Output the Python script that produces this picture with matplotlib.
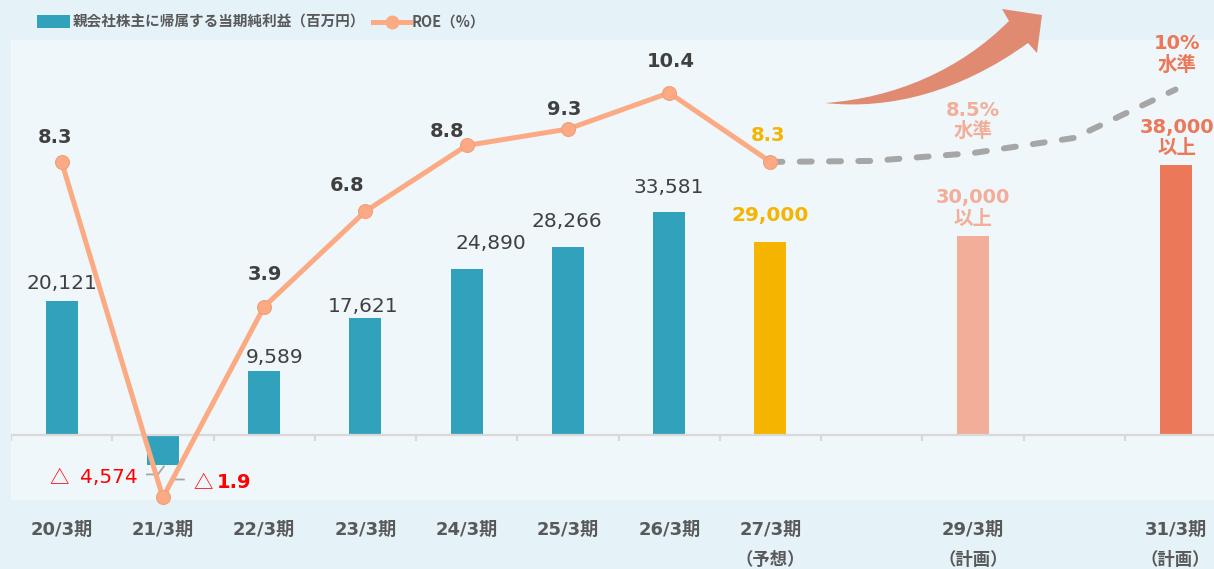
import matplotlib
matplotlib.use('Agg')
import matplotlib.pyplot as plt
import numpy as np
from matplotlib.patches import Rectangle, PathPatch
from matplotlib.path import Path
from matplotlib.lines import Line2D
from matplotlib.transforms import Affine2D

plt.rcParams['font.family'] = ['DejaVu Sans', 'Noto Sans CJK JP']

# ---------------- data ----------------
categories = ['20/3期', '21/3期', '22/3期', '23/3期', '24/3期', '25/3期', '26/3期',
              '27/3期', '', '29/3期', '', '31/3期']
sub_labels = ['', '', '', '', '', '', '', '（予想）', '', '（計画）', '', '（計画）']

# net profit attributable to owners of parent (million yen); bar heights as drawn
profit = [20121, -4574, 9589, 17621, 24890, 28266, 33581, 29000, np.nan, 30000, np.nan, 40600]
profit_labels = ['20,121', '4,574', '9,589', '17,621', '24,890', '28,266', '33,581',
                 '29,000', '', '30,000\n以上', '', '38,000\n以上']

roe_pos = [0, 1, 2, 3, 4, 5, 6, 7]
roe = [8.3, -1.9, 3.9, 6.8, 8.8, 9.3, 10.4, 8.3]

roe_plan_pos = [7, 8, 9, 10, 11]
roe_plan = [8.3, 8.33, 8.57, 9.03, 10.5]
roe_target_pos = [9, 11]
roe_target_labels = ['8.5%\n水準', '10%\n水準']

# ---------------- styles ----------------
TEAL = '#31a1bc'
GOLD = '#f5b400'
SALMON = '#f3ae9a'
CORAL = '#eb7859'
PEACH = '#fbaa83'
DARK = '#404040'
GRAY_TXT = '#595959'
RED = '#ff0000'
CJK = ['Noto Sans CJK JP', 'DejaVu Sans']
bar_colors = [TEAL] * 7 + [GOLD, TEAL, SALMON, TEAL, CORAL]
label_colors = [DARK] * 7 + [GOLD, DARK, SALMON, DARK, CORAL]
label_weights = ['normal'] * 7 + ['bold', 'normal', 'bold', 'normal', 'bold']
# label offsets in pixels (dx, gap above bar)
bar_dx = [0, 0, 10, -2, 24, -1, -1, 0, 0, 0, 0, 1]
bar_gap = [12, 0, 8, 6, 20, 20, 19, 21, 0, 27, 0, 27]
roe_dx = [-7, 0, 1, -18, -20, -4, 2, -2]
roe_gap = [19, 0, 27, 20, 8, 14, 26, 21]
roe_colors = [DARK] * 7 + [GOLD]
target_colors = [SALMON, CORAL]
target_dx = [0, 2]
target_gap = [32, 35]

W, H = 1214, 569
fig = plt.figure(figsize=(W / 100, H / 100), dpi=100)
fig.patch.set_facecolor('#e5f2f8')
px = Affine2D().scale(1, -1).translate(0, H)   # pixel coords, y downwards

ax = fig.add_axes([11 / W, 69 / H, 1203 / W, 460 / H])
ax.set_facecolor('#eff7fa')
x = np.arange(len(categories))
ax.set_xlim(-0.5, 11.38)
ax.set_ylim(-9776, 59400)
for s in ax.spines.values():
    s.set_visible(False)
ax.set_xticks([])
ax.set_yticks([])

ax.bar(x, profit, width=0.316, color=bar_colors, zorder=2)
ax.axhline(0, color='#d9d9d9', lw=1.6, zorder=3)
bounds = np.arange(len(categories)) - 0.5
ax.vlines(bounds, -950, 0, color='#d9d9d9', lw=1.6, zorder=3)

for i, v in enumerate(profit):
    if np.isnan(v) or v < 0:
        continue
    txt = profit_labels[i]
    if '\n' in txt:
        ax.annotate(txt, xy=(i, v), xytext=(bar_dx[i], bar_gap[i]), textcoords='offset pixels',
                    ha='center', va='center', fontsize=14, color=label_colors[i],
                    fontweight=label_weights[i], linespacing=1.15, zorder=4)
    else:
        ax.annotate(txt, xy=(i, v), xytext=(bar_dx[i], bar_gap[i]), textcoords='offset pixels',
                    ha='center', va='baseline', fontsize=14.5, color=label_colors[i],
                    fontweight=label_weights[i], zorder=4)

# negative profit label (△ = minus) with leader
ax.annotate(profit_labels[1], xy=(1, profit[1]), xytext=(-25, -18), textcoords='offset pixels',
            ha='right', va='baseline', fontsize=14.5, color=RED, zorder=4)
ax.annotate('△', xy=(1, profit[1]), xytext=(-113, -18), textcoords='offset pixels',
            ha='left', va='baseline', fontsize=14, color=RED, family=CJK, zorder=4)
ax.plot([1 - 16 / 101.3, 1 - 5 / 101.3, 1 + 1 / 101.3],
        [profit[1] - 9 * 150.4, profit[1] - 9 * 150.4, profit[1] - 150],
        color='#a6a6a6', lw=1.3, zorder=4)

# x labels
tr = ax.get_xaxis_transform()
for i, c in enumerate(categories):
    if c:
        ax.text(i, -0.066, c, transform=tr, ha='center', va='center', fontsize=13,
                fontweight='bold', color=GRAY_TXT, clip_on=False)
    if sub_labels[i]:
        ax.text(i, -0.131, sub_labels[i], transform=tr, ha='center', va='center', fontsize=12.5,
                fontweight='bold', color=GRAY_TXT, clip_on=False, family=CJK)

# ROE axis
ax2 = ax.twinx()
ax2.set_ylim(-1.976, 12.006)
ax2.set_xlim(-0.5, 11.38)
for s in ax2.spines.values():
    s.set_visible(False)
ax2.set_yticks([])
ax2.set_xticks([])

ax2.plot(roe_plan_pos, roe_plan, color='#a6a6a6', lw=4.3, dashes=(2.0, 2.9),
         dash_capstyle='round', zorder=2)
ax2.plot(roe_pos, roe, color=PEACH, lw=3.6, marker='o', markersize=10,
         markerfacecolor=PEACH, markeredgecolor='#efa07c', markeredgewidth=0.8,
         zorder=3, clip_on=False)

for k, (p, v) in enumerate(zip(roe_pos, roe)):
    if v < 0:
        continue
    ax2.annotate(f'{v:.1f}', xy=(p, v), xytext=(roe_dx[k], roe_gap[k]), textcoords='offset pixels',
                 ha='center', va='baseline', fontsize=14, fontweight='bold',
                 color=roe_colors[k], zorder=5)

# negative ROE label
ax2.annotate('△', xy=(1, roe[1]), xytext=(31, 9), textcoords='offset pixels',
             ha='left', va='baseline', fontsize=14, color=RED, family=CJK)
ax2.annotate(f'{abs(roe[1]):.1f}', xy=(1, roe[1]), xytext=(54, 9), textcoords='offset pixels',
             ha='left', va='baseline', fontsize=14, fontweight='bold', color=RED)
ax2.plot([1 + 21 / 101.3, 1 + 11 / 101.3, 1 + 1 / 101.3],
         [roe[1] + 18 / 32.9, roe[1] + 18 / 32.9, roe[1] + 2 / 32.9],
         color='#a6a6a6', lw=1.3, zorder=2)

plan_lookup = dict(zip(roe_plan_pos, roe_plan))
for k, p in enumerate(roe_target_pos):
    ax2.annotate(roe_target_labels[k], xy=(p, plan_lookup[p]), xytext=(target_dx[k], target_gap[k]),
                 textcoords='offset pixels', ha='center', va='center', fontsize=14,
                 fontweight='bold', color=target_colors[k], linespacing=1.15, zorder=5)

# curved arrow (decoration)
verts = [(825, 103), (895, 98), (960, 70), (1009, 21),
         (1002, 9), (1042, 15), (1037, 53), (1028, 43),
         (960, 92), (890, 110), (825, 103), (825, 103)]
codes = [Path.MOVETO, Path.CURVE4, Path.CURVE4, Path.CURVE4,
         Path.LINETO, Path.LINETO, Path.LINETO, Path.LINETO,
         Path.CURVE4, Path.CURVE4, Path.CURVE4, Path.CLOSEPOLY]
fig.add_artist(PathPatch(Path(verts, codes), facecolor='#e08a72', edgecolor='none', transform=px))

# legend (manual)
fig.add_artist(Rectangle((37, 15), 33, 13, facecolor=TEAL, edgecolor='none', transform=px))
fig.text(73 / W, 1 - 21.5 / H, '親会社株主に帰属する当期純利益（百万円）', ha='left', va='center',
         fontsize=10.5, fontweight='bold', color=GRAY_TXT, family=CJK)
fig.add_artist(Line2D([373, 410], [21.5, 21.5], transform=px, color=PEACH, lw=3.6))
fig.add_artist(Line2D([392], [21.5], transform=px, marker='o', markersize=9, color=PEACH, lw=0))
fig.text(412 / W, 1 - 21.5 / H, 'ROE（%）', ha='left', va='center',
         fontsize=10.5, fontweight='bold', color=GRAY_TXT, family=CJK)

fig.savefig('out.png', dpi=100, facecolor=fig.get_facecolor())
